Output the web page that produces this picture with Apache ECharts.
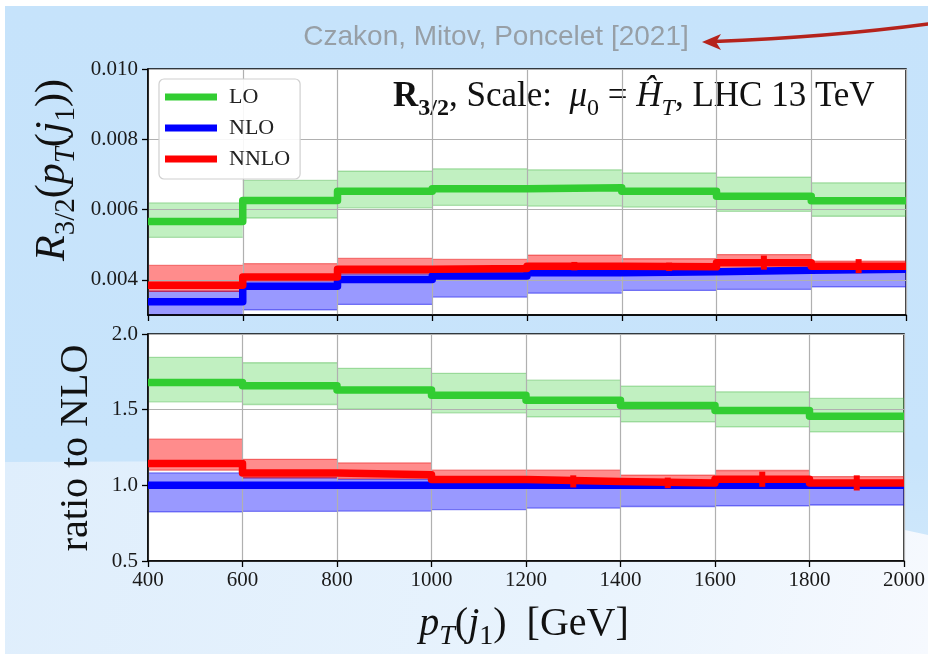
<!DOCTYPE html>
<html>
<head>
<meta charset="utf-8">
<script src="https://cdn.jsdelivr.net/npm/echarts@6/dist/echarts.min.js"></script>
<style>
  html, body { margin: 0; padding: 0; background: #fff; }
  #chart { width: 928px; height: 654px; }
</style>
</head>
<body>
<div id="chart"></div>
<script>
// pT(j1) bin edges [GeV]
const binEdges = [400, 600, 800, 1000, 1200, 1400, 1600, 1800, 2000];

// Tick positions
const xTicks = [400, 600, 800, 1000, 1200, 1400, 1600, 1800, 2000];
const rTicks = [0.004, 0.006, 0.008, 0.010];
const ratioTicks = [0.5, 1.0, 1.5, 2.0];

// R_{3/2}: central values and scale-variation envelopes
const loCentral   = [0.00566, 0.00626, 0.00652, 0.00659, 0.00662, 0.00652, 0.00638, 0.00625];
const loLow       = [0.00521, 0.00576, 0.00605, 0.00612, 0.00610, 0.00607, 0.00595, 0.00581];
const loHigh      = [0.00619, 0.00683, 0.00709, 0.00716, 0.00713, 0.00704, 0.00692, 0.00676];
const nloCentral  = [0.00338, 0.00382, 0.00401, 0.00411, 0.00420, 0.00423, 0.00427, 0.00430];
const nloLow      = [0.00278, 0.00315, 0.00330, 0.00351, 0.00362, 0.00370, 0.00373, 0.00380];
const nloHigh     = [0.00368, 0.00399, 0.00417, 0.00430, 0.00430, 0.00427, 0.00430, 0.00433];
const nnloCentral = [0.00385, 0.00408, 0.00430, 0.00432, 0.00439, 0.00437, 0.00449, 0.00439];
const nnloLow     = [0.00367, 0.00397, 0.00417, 0.00416, 0.00425, 0.00423, 0.00427, 0.00426];
const nnloHigh    = [0.00441, 0.00446, 0.00461, 0.00458, 0.00470, 0.00460, 0.00472, 0.00453];
const nnloMcErr   = [0.00001, 0.00002, 0.00003, 0.00004, 0.00012, 0.00012, 0.00020, 0.00020];

// Ratio to NLO
const ratioLo          = [1.680, 1.658, 1.630, 1.596, 1.563, 1.528, 1.494, 1.457];
const ratioLoLow       = [1.552, 1.534, 1.503, 1.479, 1.452, 1.420, 1.386, 1.353];
const ratioLoHigh      = [1.846, 1.810, 1.773, 1.740, 1.695, 1.656, 1.618, 1.574];
const ratioNlo         = [1.000, 1.000, 1.000, 1.000, 1.000, 1.000, 1.000, 1.000];
const ratioNloLow      = [0.824, 0.828, 0.830, 0.840, 0.850, 0.860, 0.865, 0.870];
const ratioNloHigh     = [1.082, 1.050, 1.040, 1.050, 1.030, 1.015, 1.015, 1.015];
const ratioNnlo        = [1.144, 1.082, 1.070, 1.038, 1.026, 1.016, 1.040, 1.016];
const ratioNnloLow     = [1.100, 1.050, 1.045, 1.015, 1.010, 1.000, 1.005, 0.995];
const ratioNnloHigh    = [1.305, 1.172, 1.148, 1.100, 1.100, 1.068, 1.098, 1.058];
const ratioNnloMcErr   = [0.003, 0.005, 0.010, 0.020, 0.040, 0.035, 0.050, 0.050];

const SERIF = "'Liberation Serif', 'Times New Roman', serif";
const SANS = "'Liberation Sans', Arial, sans-serif";
const C_LO = '#32cd32', C_NLO = '#0000ff', C_NNLO = '#ff0000';

function stepPoints(values) {
  const pts = [];
  values.forEach((v, i) => { pts.push([binEdges[i], v], [binEdges[i + 1], v]); });
  return pts;
}
function bandRows(low, high) {
  return low.map((l, i) => [binEdges[i], binEdges[i + 1], l, high[i]]);
}
function errRows(values, errs) {
  return values.map((v, i) => [(binEdges[i] + binEdges[i + 1]) / 2, v, errs[i]]);
}

function bandSeries(name, idx, rows, fill, edge) {
  return {
    type: 'custom', name, xAxisIndex: idx, yAxisIndex: idx, z: 1, silent: true,
    data: rows,
    encode: { x: [0, 1], y: [2, 3] },
    renderItem(params, api) {
      const tl = api.coord([api.value(0), api.value(3)]);
      const br = api.coord([api.value(1), api.value(2)]);
      const cs = params.coordSys;
      const box = { x: cs.x, y: cs.y, width: cs.width, height: cs.height };
      const rect = echarts.graphic.clipRectByRect(
        { x: tl[0], y: tl[1], width: br[0] - tl[0], height: br[1] - tl[1] }, box);
      if (!rect) return null;
      const children = [{ type: 'rect', shape: rect, style: { fill } }];
      [tl[1], br[1]].forEach(yy => {
        if (yy >= cs.y && yy <= cs.y + cs.height) {
          children.push({ type: 'line',
            shape: { x1: rect.x, y1: yy, x2: rect.x + rect.width, y2: yy },
            style: { stroke: edge, lineWidth: 1.3 } });
        }
      });
      return { type: 'group', children };
    }
  };
}

function stepSeries(name, idx, values, color) {
  return {
    type: 'line', name, xAxisIndex: idx, yAxisIndex: idx, z: 3, silent: true,
    data: stepPoints(values), showSymbol: false, symbol: 'none',
    lineStyle: { color, width: 7.5, join: 'round', cap: 'butt' },
    itemStyle: { color }
  };
}

function errSeries(idx, rows, color) {
  return {
    type: 'custom', name: 'NNLO MC', xAxisIndex: idx, yAxisIndex: idx, z: 4, silent: true,
    data: rows,
    encode: { x: 0, y: 1 },
    renderItem(params, api) {
      const c = api.value(0), v = api.value(1), e = api.value(2);
      const top = api.coord([c, v + e]);
      const bot = api.coord([c, v - e]);
      return { type: 'rect', shape: { x: top[0] - 3, y: top[1], width: 6, height: bot[1] - top[1] },
               style: { fill: color } };
    }
  };
}

const axisTickStyle = { show: true, length: 6, lineStyle: { color: '#000', width: 1.3 } };
const splitStyle = { show: true, lineStyle: { color: '#b0b0b0', width: 1.2 } };
const axisLineStyle = { show: true, onZero: false, lineStyle: { color: '#000', width: 1.5 } };
const tickFont = { fontFamily: SERIF, fontSize: 21, color: '#1a1a1a' };

// rich-text pieces for typeset labels
function mathRich(size, subSize, subDrop) {
  const lh = Math.round(size * 1.1);
  const base = { fontFamily: SERIF, fontSize: size, lineHeight: lh, verticalAlign: 'top', fill: '#111' };
  const sub = { fontFamily: SERIF, fontSize: subSize, lineHeight: subSize, verticalAlign: 'top',
                padding: [subDrop, 0, 0, 0], fill: '#111' };
  return {
    rm: base,
    it: Object.assign({}, base, { fontStyle: 'italic' }),
    bf: Object.assign({}, base, { fontWeight: 'bold' }),
    srm: sub,
    sit: Object.assign({}, sub, { fontStyle: 'italic' }),
    sbf: Object.assign({}, sub, { fontWeight: 'bold' })
  };
}

const chart = echarts.init(document.getElementById('chart'), null, { renderer: 'canvas', width: 928, height: 654 });

const option = {
  animation: false,
  backgroundColor: '#ffffff',
  grid: [
    { left: 148, top: 69, width: 758, height: 246, show: true, backgroundColor: '#fff',
      borderColor: '#000', borderWidth: 1.5, z: 0 },
    { left: 148, top: 334, width: 758, height: 227, show: true, backgroundColor: '#fff',
      borderColor: '#000', borderWidth: 1.5, z: 0 }
  ],
  xAxis: [
    { gridIndex: 0, type: 'value', min: 400, max: 2000, z: 2,
      axisLine: axisLineStyle,
      axisTick: Object.assign({ customValues: xTicks }, axisTickStyle),
      axisLabel: { show: false, customValues: xTicks },
      splitLine: splitStyle },
    { gridIndex: 1, type: 'value', min: 400, max: 2000, z: 2,
      axisLine: axisLineStyle,
      axisTick: Object.assign({ customValues: xTicks }, axisTickStyle),
      axisLabel: Object.assign({ customValues: xTicks, margin: 9, showMaxLabel: true,
                                 formatter: v => String(v) }, tickFont),
      splitLine: splitStyle }
  ],
  yAxis: [
    { gridIndex: 0, type: 'value', min: 0.003, max: 0.010, z: 2,
      axisLine: axisLineStyle,
      axisTick: Object.assign({ customValues: rTicks }, axisTickStyle),
      axisLabel: Object.assign({ customValues: rTicks, margin: 10, formatter: v => v.toFixed(3) }, tickFont),
      splitLine: splitStyle },
    { gridIndex: 1, type: 'value', min: 0.5, max: 2.0, z: 2,
      axisLine: axisLineStyle,
      axisTick: Object.assign({ customValues: ratioTicks }, axisTickStyle),
      axisLabel: Object.assign({ customValues: ratioTicks, margin: 10, formatter: v => v.toFixed(1) }, tickFont),
      splitLine: splitStyle }
  ],
  legend: {
    data: ['LO', 'NLO', 'NNLO'],
    orient: 'vertical', left: 159, top: 79,
    padding: [7, 10, 9, 6], itemGap: 9, itemWidth: 52, itemHeight: 7, icon: 'rect',
    backgroundColor: 'rgba(255,255,255,0.9)', borderColor: '#d0d0d0', borderWidth: 1.2, borderRadius: 5,
    textStyle: { fontFamily: SERIF, fontSize: 22, color: '#222', padding: [0, 0, 0, 7] },
    selectedMode: false, z: 5
  },
  series: [
    bandSeries('LO band', 0, bandRows(loLow, loHigh), 'rgba(50,205,50,0.3)', 'rgba(50,170,50,0.35)'),
    bandSeries('NLO band', 0, bandRows(nloLow, nloHigh), 'rgba(0,0,255,0.4)', 'rgba(0,0,230,0.45)'),
    bandSeries('NNLO band', 0, bandRows(nnloLow, nnloHigh), 'rgba(255,0,0,0.45)', 'rgba(230,0,0,0.45)'),
    stepSeries('LO', 0, loCentral, C_LO),
    stepSeries('NLO', 0, nloCentral, C_NLO),
    stepSeries('NNLO', 0, nnloCentral, C_NNLO),
    errSeries(0, errRows(nnloCentral, nnloMcErr), C_NNLO),

    bandSeries('LO ratio band', 1, bandRows(ratioLoLow, ratioLoHigh), 'rgba(50,205,50,0.3)', 'rgba(50,170,50,0.35)'),
    bandSeries('NLO ratio band', 1, bandRows(ratioNloLow, ratioNloHigh), 'rgba(0,0,255,0.4)', 'rgba(0,0,230,0.45)'),
    bandSeries('NNLO ratio band', 1, bandRows(ratioNnloLow, ratioNnloHigh), 'rgba(255,0,0,0.45)', 'rgba(230,0,0,0.45)'),
    stepSeries('LO', 1, ratioLo, C_LO),
    stepSeries('NLO', 1, ratioNlo, C_NLO),
    stepSeries('NNLO', 1, ratioNnlo, C_NNLO),
    errSeries(1, errRows(ratioNnlo, ratioNnloMcErr), C_NNLO)
  ],
  graphic: [
    // slide background
    { type: 'rect', z: -10, silent: true, shape: { x: 5, y: 6, width: 923, height: 648 },
      style: { fill: { type: 'linear', x: 0, y: 0, x2: 0, y2: 1,
        colorStops: [{ offset: 0, color: '#c6e3fb' }, { offset: 0.7, color: '#c8e4fb' }, { offset: 1, color: '#d6ebfb' }] } } },
    { type: 'polygon', z: -9, silent: true,
      shape: { points: [[5, 462], [250, 461], [500, 468], [720, 490], [928, 535], [928, 654], [5, 654]] },
      style: { fill: { type: 'linear', x: 0, y: 0, x2: 1, y2: 1,
        colorStops: [{ offset: 0, color: '#dfeefc' }, { offset: 0.6, color: '#e8f3fd' }, { offset: 1, color: '#f6f9fe' }] } } },
    // citation and pointer
    { type: 'text', z: 5, silent: true, x: 496, y: 37,
      style: { text: 'Czakon, Mitov, Poncelet [2021]', fontFamily: SANS, fontSize: 28,
               fill: '#979fa6', align: 'center', verticalAlign: 'middle' } },
    { type: 'bezierCurve', z: 5, silent: true,
      shape: { x1: 928, y1: 24, cpx1: 830, cpy1: 37, x2: 714, y2: 41.5 },
      style: { fill: 'none', stroke: '#b5231c', lineWidth: 3.5, lineCap: 'round' } },
    { type: 'polygon', z: 5, silent: true,
      shape: { points: [[702, 42], [721, 34], [716, 42], [721, 50]] },
      style: { fill: '#b5231c' } },
    // in-plot annotation
    { type: 'text', z: 1, silent: true, x: 393, y: 79,
      style: { text: '{bf|R}{sbf|3/2}{rm|, Scale:  }{it|μ}{srm|0}{rm| = }{it|Ĥ}{sit|T}{rm|, LHC 13 TeV}',
               rich: mathRich(35, 24, 18), align: 'left', verticalAlign: 'top' } },
    // axis titles
    { type: 'text', z: 5, silent: true, x: 55, y: 170, rotation: Math.PI / 2,
      style: { text: '{it|R}{srm|3/2}{rm|(}{it|p}{sit|T}{rm|(}{it|j}{srm|1}{rm|))}',
               rich: mathRich(42, 29, 20), align: 'center', verticalAlign: 'middle' } },
    { type: 'text', z: 5, silent: true, x: 76, y: 448, rotation: Math.PI / 2,
      style: { text: 'ratio to NLO', fontFamily: SERIF, fontSize: 40, fill: '#111',
               align: 'center', verticalAlign: 'middle' } },
    { type: 'text', z: 5, silent: true, x: 524, y: 626,
      style: { text: '{it|p}{sit|T}{rm|(}{it|j}{srm|1}{rm|)  [GeV]}',
               rich: mathRich(40, 28, 19), align: 'center', verticalAlign: 'middle' } }
  ]
};

chart.setOption(option);
</script>
</body>
</html>
